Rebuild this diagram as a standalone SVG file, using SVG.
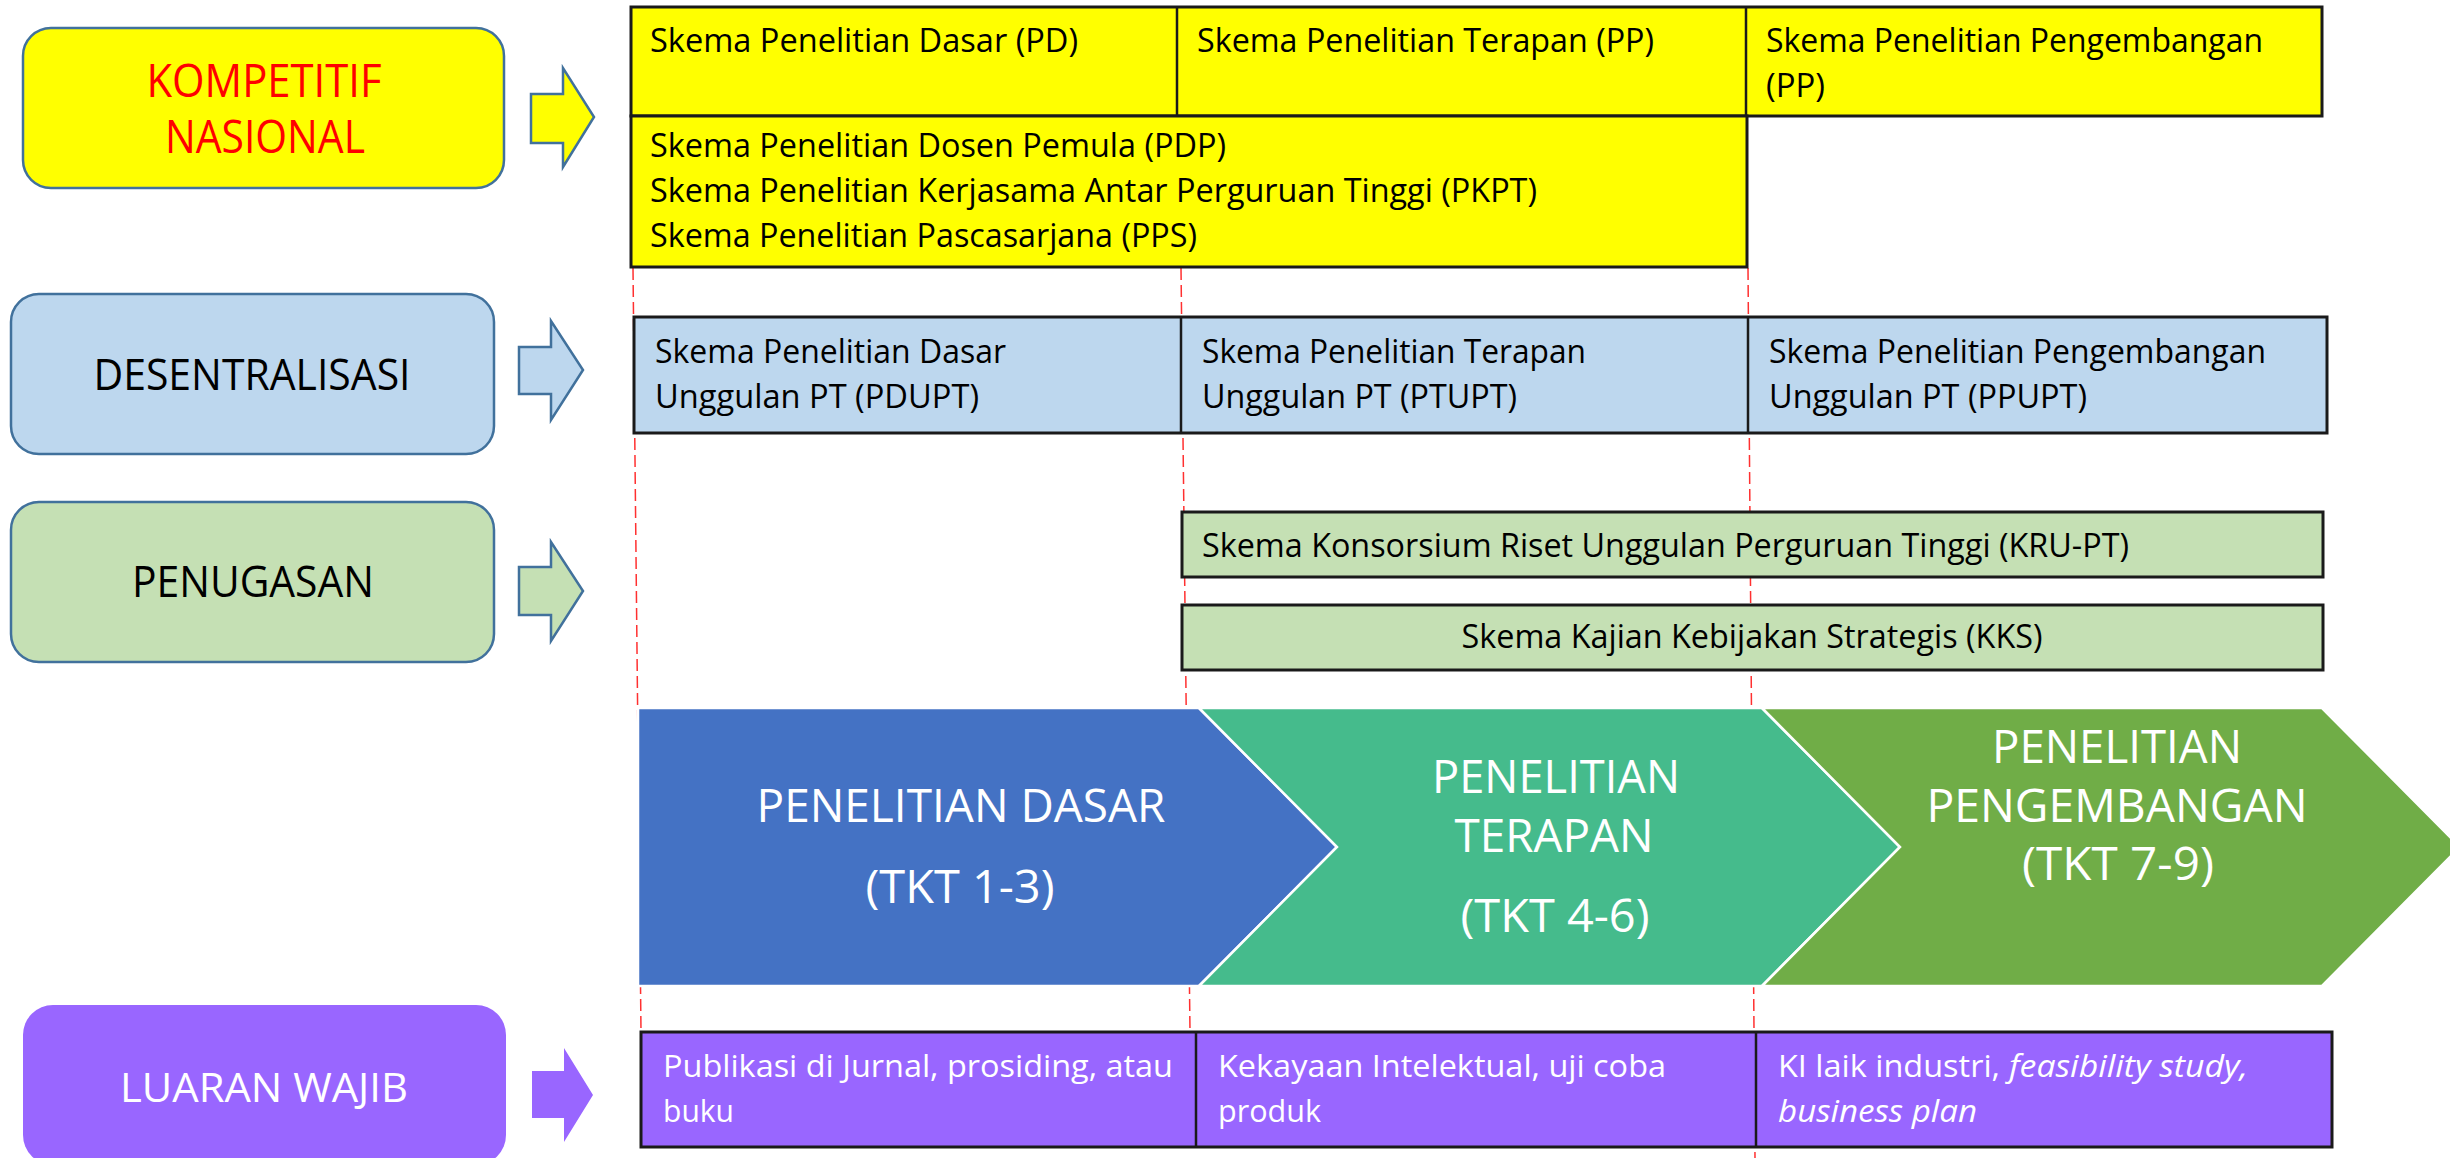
<svg xmlns="http://www.w3.org/2000/svg" width="2450" height="1158" viewBox="0 0 2450 1158">
  <style>
    text { font-family: "Open Sans", "Liberation Sans", sans-serif; }
    .label { stroke: #41719C; stroke-width: 2.5; }
    .arrow { stroke: #41719C; stroke-width: 2.5; stroke-linejoin: miter; }
    .cell { stroke: #1A1A1A; stroke-width: 3; }
    .div { stroke: #1A1A1A; stroke-width: 2.5; }
    .guide { stroke: #FF3030; stroke-width: 1.5; stroke-dasharray: 12 5; fill: none; }
    .sk { font-size: 33px; fill: #000; }
    .out { font-size: 31px; fill: #FFF; }
    .head { font-size: 43px; fill: #000; text-anchor: middle; }
    .red { fill: #FF0000; font-size: 46px; }
    .white { fill: #FFF; font-size: 40px; }
    .chev { font-size: 45px; fill: #FFF; text-anchor: middle; }
    .band { stroke: #FFF; stroke-width: 2.5; stroke-linejoin: miter; }
  </style>

  <rect width="2450" height="1158" fill="#FFF"/>

  <!-- dashed column guides -->
  <g id="connectors">
    <path class="guide" d="M633,268 L641,1032"/>
    <path class="guide" d="M1181,268 L1190,1032"/>
    <path class="guide" d="M1748,268 L1755,1158"/>
  </g>

  <!-- category labels on the left -->
  <g id="kompetitif">
    <rect class="label" x="23" y="28" width="481" height="160" rx="28" fill="#FFFF00"/>
    <text class="head red" x="264" y="97" textLength="235" lengthAdjust="spacingAndGlyphs">KOMPETITIF</text>
    <text class="head red" x="265" y="153" textLength="200" lengthAdjust="spacingAndGlyphs">NASIONAL</text>
  </g>
  <g id="arrow-kompetitif">
    <polygon class="arrow" fill="#FFFF00" points="531,94 563,94 563,68 594,117 563,167 563,143 531,143"/>
  </g>

  <g id="desentralisasi">
    <rect class="label" x="11" y="294" width="483" height="160" rx="28" fill="#BDD7EE"/>
    <text class="head" x="252" y="390" textLength="317" lengthAdjust="spacingAndGlyphs">DESENTRALISASI</text>
  </g>
  <g id="arrow-desentralisasi">
    <polygon class="arrow" fill="#BDD7EE" points="519,347 551,347 551,321 583,370 551,420 551,394 519,394"/>
  </g>

  <g id="penugasan">
    <rect class="label" x="11" y="502" width="483" height="160" rx="28" fill="#C5E0B4"/>
    <text class="head" x="253" y="597" textLength="242" lengthAdjust="spacingAndGlyphs">PENUGASAN</text>
  </g>
  <g id="arrow-penugasan">
    <polygon class="arrow" fill="#C5E0B4" points="519,567 551,567 551,542 583,591 551,641 551,615 519,615"/>
  </g>

  <g id="luaran-wajib">
    <rect x="23" y="1005" width="483" height="160" rx="30" fill="#9966FF"/>
    <text class="head white" x="264" y="1102" textLength="288" lengthAdjust="spacingAndGlyphs">LUARAN WAJIB</text>
  </g>
  <g id="arrow-luaran">
    <polygon fill="#9966FF" points="532,1071 564,1071 564,1048 593,1095 564,1142 564,1118 532,1118"/>
  </g>

  <!-- national competitive schemes -->
  <g id="skema-kompetitif">
    <rect class="cell" x="631" y="7" width="1691" height="109" fill="#FFFF00"/>
    <rect class="cell" x="631" y="116" width="1116" height="151" fill="#FFFF00"/>
    <line class="div" x1="1177" y1="7" x2="1177" y2="116"/>
    <line class="div" x1="1746" y1="7" x2="1746" y2="116"/>
    <text class="sk" x="650" y="52" textLength="428" lengthAdjust="spacingAndGlyphs">Skema Penelitian Dasar (PD)</text>
    <text class="sk" x="1197" y="52" textLength="457" lengthAdjust="spacingAndGlyphs">Skema Penelitian Terapan (PP)</text>
    <text class="sk" x="1766" y="52" textLength="497" lengthAdjust="spacingAndGlyphs">Skema Penelitian Pengembangan</text>
    <text class="sk" x="1766" y="97" textLength="59" lengthAdjust="spacingAndGlyphs">(PP)</text>
    <text class="sk" x="650" y="157" textLength="576" lengthAdjust="spacingAndGlyphs">Skema Penelitian Dosen Pemula (PDP)</text>
    <text class="sk" x="650" y="202" textLength="887" lengthAdjust="spacingAndGlyphs">Skema Penelitian Kerjasama Antar Perguruan Tinggi (PKPT)</text>
    <text class="sk" x="650" y="247" textLength="547" lengthAdjust="spacingAndGlyphs">Skema Penelitian Pascasarjana (PPS)</text>
  </g>

  <!-- decentralised schemes -->
  <g id="skema-desentralisasi">
    <rect class="cell" x="634" y="317" width="1693" height="116" fill="#BDD7EE"/>
    <line class="div" x1="1181" y1="317" x2="1181" y2="433"/>
    <line class="div" x1="1748" y1="317" x2="1748" y2="433"/>
    <text class="sk" x="655" y="363" textLength="351" lengthAdjust="spacingAndGlyphs">Skema Penelitian Dasar</text>
    <text class="sk" x="655" y="408" textLength="324" lengthAdjust="spacingAndGlyphs">Unggulan PT (PDUPT)</text>
    <text class="sk" x="1202" y="363" textLength="384" lengthAdjust="spacingAndGlyphs">Skema Penelitian Terapan</text>
    <text class="sk" x="1202" y="408" textLength="315" lengthAdjust="spacingAndGlyphs">Unggulan PT (PTUPT)</text>
    <text class="sk" x="1769" y="363" textLength="497" lengthAdjust="spacingAndGlyphs">Skema Penelitian Pengembangan</text>
    <text class="sk" x="1769" y="408" textLength="318" lengthAdjust="spacingAndGlyphs">Unggulan PT (PPUPT)</text>
  </g>

  <!-- assignment schemes -->
  <g id="skema-kru-pt">
    <rect class="cell" x="1182" y="512" width="1141" height="65" fill="#C5E0B4"/>
    <text class="sk" x="1202" y="557" textLength="927" lengthAdjust="spacingAndGlyphs">Skema Konsorsium Riset Unggulan Perguruan Tinggi (KRU-PT)</text>
  </g>
  <g id="skema-kks">
    <rect class="cell" x="1182" y="605" width="1141" height="65" fill="#C5E0B4"/>
    <text class="sk" x="1752" y="648" text-anchor="middle" textLength="581" lengthAdjust="spacingAndGlyphs">Skema Kajian Kebijakan Strategis (KKS)</text>
  </g>

  <!-- research stage chevrons -->
  <g id="penelitian-dasar">
    <polygon class="band" fill="#4472C4" points="638,708 1199,708 1337,847 1199,986 638,986"/>
    <text class="chev" x="961" y="822" textLength="409" lengthAdjust="spacingAndGlyphs">PENELITIAN DASAR</text>
    <text class="chev" x="960" y="903" textLength="189" lengthAdjust="spacingAndGlyphs">(TKT 1-3)</text>
  </g>
  <g id="penelitian-terapan">
    <polygon class="band" fill="#45BB8C" points="1199,708 1762,708 1900,847 1762,986 1199,986 1337,847"/>
    <text class="chev" x="1556" y="793" textLength="248" lengthAdjust="spacingAndGlyphs">PENELITIAN</text>
    <text class="chev" x="1554" y="852" textLength="199" lengthAdjust="spacingAndGlyphs">TERAPAN</text>
    <text class="chev" x="1555" y="932" textLength="189" lengthAdjust="spacingAndGlyphs">(TKT 4-6)</text>
  </g>
  <g id="penelitian-pengembangan">
    <polygon class="band" fill="#70AD47" points="1762,708 2322,708 2460,847 2322,986 1762,986 1900,847"/>
    <text class="chev" x="2117" y="763" textLength="250" lengthAdjust="spacingAndGlyphs">PENELITIAN</text>
    <text class="chev" x="2117" y="822" textLength="381" lengthAdjust="spacingAndGlyphs">PENGEMBANGAN</text>
    <text class="chev" x="2118" y="880" textLength="192" lengthAdjust="spacingAndGlyphs">(TKT 7-9)</text>
  </g>

  <!-- mandatory outputs -->
  <g id="luaran">
    <rect class="cell" x="641" y="1032" width="1691" height="115" fill="#9966FF"/>
    <line class="div" x1="1196" y1="1032" x2="1196" y2="1147"/>
    <line class="div" x1="1756" y1="1032" x2="1756" y2="1147"/>
    <text class="out" x="663" y="1077" textLength="510" lengthAdjust="spacingAndGlyphs">Publikasi di Jurnal, prosiding, atau</text>
    <text class="out" x="663" y="1122" textLength="71" lengthAdjust="spacingAndGlyphs">buku</text>
    <text class="out" x="1218" y="1077" textLength="448" lengthAdjust="spacingAndGlyphs">Kekayaan Intelektual, uji coba</text>
    <text class="out" x="1218" y="1122" textLength="103" lengthAdjust="spacingAndGlyphs">produk</text>
    <text class="out" x="1778" y="1077" textLength="222" lengthAdjust="spacingAndGlyphs">KI laik industri,</text>
    <text class="out" x="2009" y="1077" font-style="italic" textLength="239" lengthAdjust="spacingAndGlyphs">feasibility study,</text>
    <text class="out" x="1778" y="1122" font-style="italic" textLength="199" lengthAdjust="spacingAndGlyphs">business plan</text>
  </g>
</svg>
